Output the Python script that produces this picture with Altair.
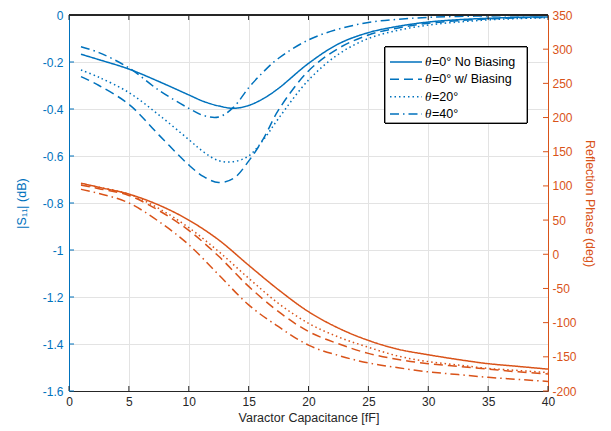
import altair as alt
import pandas as pd

# ---------------- data ----------------
series = ["θ=0° No Biasing", "θ=0° w/ Biasing", "θ=20°", "θ=40°"]
legend_rest = ["=0° No Biasing", "=0° w/ Biasing", "=20°", "=40°"]

x_s11 = [1, 2.5, 5, 7.5, 10, 11.25, 12.5, 13.75, 15, 16.25, 17.5, 20, 22.5, 25, 27.5, 30, 32.5, 35, 37.5, 40]
s11_nobias = [-0.167, -0.19, -0.23, -0.283, -0.34, -0.368, -0.387, -0.397, -0.385, -0.355, -0.312, -0.206,
              -0.123, -0.075, -0.048, -0.03, -0.02, -0.014, -0.01, -0.008]
s11_bias = [-0.262, -0.30, -0.38, -0.51, -0.638, -0.688, -0.713, -0.695, -0.622, -0.525, -0.404, -0.238,
            -0.142, -0.085, -0.055, -0.035, -0.024, -0.017, -0.012, -0.01]
s11_20 = [-0.234, -0.265, -0.33, -0.425, -0.53, -0.583, -0.62, -0.624, -0.60, -0.53, -0.44, -0.277,
          -0.167, -0.10, -0.065, -0.043, -0.03, -0.021, -0.015, -0.012]
s11_40 = [-0.135, -0.16, -0.225, -0.32, -0.397, -0.428, -0.434, -0.392, -0.31, -0.241, -0.184, -0.106,
          -0.06, -0.032, -0.018, -0.01, -0.006, -0.004, -0.003, -0.002]

x_phase = [1, 2.5, 5, 7.5, 10, 12.5, 15, 17.5, 20, 22.5, 25, 27.5, 30, 32.5, 35, 37.5, 40]
ph_nobias = [104, 98, 88, 72, 50, 21, -16, -52, -84, -108, -126, -139, -147, -154, -160, -164, -168]
ph_bias = [101, 96, 86, 64, 35, -3, -47, -84, -113, -131, -145, -154, -160, -164, -168, -172, -175]
ph_20 = [103, 98, 88, 67, 39, 4, -35, -72, -101, -121, -136, -149, -157, -162, -167, -170, -173]
ph_40 = [95, 89, 75, 48, 14, -30, -74, -106, -133, -148, -159, -166, -172, -176, -180, -183, -186]

x_ticks = [0, 5, 10, 15, 20, 25, 30, 35, 40]
s11_ticks = [0, -0.2, -0.4, -0.6, -0.8, -1, -1.2, -1.4, -1.6]
phase_ticks = [-200, -150, -100, -50, 0, 50, 100, 150, 200, 250, 300, 350]

# ---------------- styling ----------------
BLUE = "#0072BD"
ORANGE = "#D95319"
DARK = "#262626"
GRID = "#e3e3e3"
FONT = "Liberation Sans"
W, H = 479, 376
dash_range = [[1, 0], [9, 5], [1.5, 3], [9, 4, 1.5, 4]]

s11_rows = []
for name, vals in zip(series, [s11_nobias, s11_bias, s11_20, s11_40]):
    for xv, v in zip(x_s11, vals):
        s11_rows.append({"x": xv, "v": v, "series": name})
df_s11 = pd.DataFrame(s11_rows)

ph_rows = []
for name, vals in zip(series, [ph_nobias, ph_bias, ph_20, ph_40]):
    for xv, v in zip(x_phase, vals):
        ph_rows.append({"x": xv, "p": v, "series": name})
df_ph = pd.DataFrame(ph_rows)

df_xt = pd.DataFrame({"x": x_ticks})
df_st = pd.DataFrame({"t": s11_ticks})
df_pt = pd.DataFrame({"t": phase_ticks})
df_leg = pd.DataFrame({"series": series, "rest": legend_rest})

x_enc = alt.X(
    "x:Q",
    scale=alt.Scale(domain=[0, 40], nice=False),
    axis=alt.Axis(values=x_ticks, title="Varactor Capacitance [fF]", grid=True, gridColor=GRID,
                  domainColor=DARK, ticks=False, labelColor=DARK, titleColor=DARK,
                  labelFontSize=12, titleFontSize=12.5, labelPadding=5, titlePadding=4,
                  labelFlush=False, titleFontWeight="normal", labelFont=FONT, titleFont=FONT),
)
dash_enc = alt.StrokeDash("series:N", scale=alt.Scale(domain=series, range=dash_range), legend=None)

blue = alt.Chart(df_s11).mark_line(color=BLUE, strokeWidth=1.5, interpolate="catmull-rom").encode(
    x=x_enc,
    y=alt.Y("v:Q", scale=alt.Scale(domain=[-1.6, 0], nice=False),
            axis=alt.Axis(orient="left", values=s11_ticks, labelExpr="'' + datum.value",
                          title="|S₁₁| (dB)", grid=True, gridColor=GRID, domainColor=BLUE,
                          ticks=False, labelColor=BLUE, titleColor=BLUE, labelFontSize=12,
                          titleFontSize=12.5, labelPadding=6, titlePadding=14,
                          titleFontWeight="normal", labelFont=FONT, titleFont=FONT)),
    strokeDash=dash_enc,
    detail="series:N",
)

orange = alt.Chart(df_ph).mark_line(color=ORANGE, strokeWidth=1.5, interpolate="monotone").encode(
    x=x_enc,
    y=alt.Y("p:Q", scale=alt.Scale(domain=[-200, 350], nice=False),
            axis=alt.Axis(orient="right", values=phase_ticks, labelExpr="'' + datum.value",
                          title="Reflection Phase (deg)", grid=False, domainColor=ORANGE,
                          ticks=False, labelColor=ORANGE, titleColor=ORANGE, labelFontSize=12,
                          titleFontSize=12.5, labelPadding=4, titlePadding=6,
                          titleFontWeight="normal", labelFont=FONT, titleFont=FONT)),
    strokeDash=dash_enc,
    detail="series:N",
)

xt_bottom = alt.Chart(df_xt).mark_rule(color=DARK, strokeWidth=1).encode(
    x=x_enc, y=alt.value(H), y2=alt.value(H - 5))
xt_top = alt.Chart(df_xt).mark_rule(color=DARK, strokeWidth=1).encode(
    x=x_enc, y=alt.value(0), y2=alt.value(5))
st_left = alt.Chart(df_st).mark_rule(color=BLUE, strokeWidth=1).encode(
    y=alt.Y("t:Q", scale=alt.Scale(domain=[-1.6, 0], nice=False), axis=None),
    x=alt.value(0), x2=alt.value(5))
pt_right = alt.Chart(df_pt).mark_rule(color=ORANGE, strokeWidth=1).encode(
    y=alt.Y("t:Q", scale=alt.Scale(domain=[-200, 350], nice=False), axis=None),
    x=alt.value(W), x2=alt.value(W - 5))
top_border = alt.Chart(df_xt).mark_rule(color=DARK, strokeWidth=1).encode(
    x=alt.value(0), x2=alt.value(W), y=alt.value(0))

leg_y = alt.Y("series:N", scale=alt.Scale(type="point", domain=series, range=[47, 99], padding=0), axis=None)
leg_box = alt.Chart(df_xt).mark_rect(fill="white", stroke="black", strokeWidth=0.8).encode(
    x=alt.value(316), x2=alt.value(458), y=alt.value(32), y2=alt.value(108))
leg_line = alt.Chart(df_leg).mark_rule(color=BLUE, strokeWidth=1.5).encode(
    x=alt.value(321), x2=alt.value(353), y=leg_y, strokeDash=dash_enc)
leg_theta = alt.Chart(df_leg).mark_text(align="left", baseline="middle", font="Liberation Serif",
                                        fontStyle="italic", fontSize=13, color="black").encode(
    x=alt.value(356), y=leg_y, text=alt.value("θ"))
leg_text = alt.Chart(df_leg).mark_text(align="left", baseline="middle", font=FONT,
                                       fontSize=12.5, color="black").encode(
    x=alt.value(363), y=leg_y, text="rest:N")

chart = alt.layer(
    blue, orange, xt_bottom, xt_top, st_left, pt_right, top_border,
    leg_box, leg_line, leg_theta, leg_text
).resolve_scale(y="independent").properties(
    width=W, height=H,
    autosize=alt.AutoSizeParams(type="none"),
    padding={"left": 61, "top": 7, "right": 50, "bottom": 38},
).configure_view(strokeWidth=0).configure(font=FONT)

chart.save("out.html", embed_options={"renderer": "svg", "actions": False})
